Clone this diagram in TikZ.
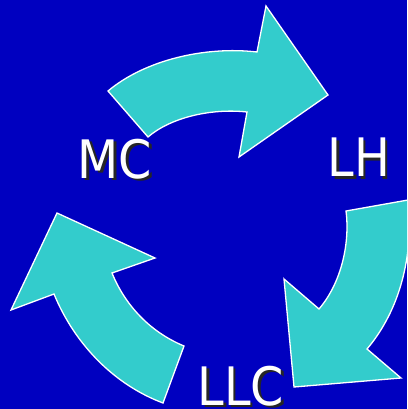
\documentclass[tikz,border=0pt]{standalone}
\usepackage{fontspec}
\setmainfont{DejaVu Sans}
\definecolor{bg}{RGB}{0,0,192}
\definecolor{arrowfill}{RGB}{51,204,204}
\tikzset{
  arrowshape/.style={fill=arrowfill, draw=white, line width=1.3pt, line join=miter},
  lbl/.style={text=white, inner sep=0pt, font=\fontsize{53}{60}\selectfont, xscale=0.9, transform shape},
  lblshadow/.style={text=black!85, inner sep=0pt, font=\fontsize{53}{60}\selectfont, xscale=0.9, transform shape}
}
\begin{document}
\begin{tikzpicture}[x=1pt,y=-1pt]
\fill[bg] (0,0) rectangle (407,409);
\useasboundingbox (0,0) rectangle (407,409);
\begin{scope}
\clip (0,0) rectangle (407,409);
% top arrow
\draw[arrowshape] (108,91) .. controls (145,60) and (205,46) .. (257,52)
  -- (266,6) -- (328,95) -- (239,157) -- (247,112)
  .. controls (210,108) and (170,118) .. (148,137) -- cycle;
% right arrow
\draw[arrowshape] (346,211) .. controls (350,242) and (342,282) .. (319,309)
  -- (284,279) -- (294,387) -- (401,378) -- (367,349)
  .. controls (400,310) and (414,255) .. (408,200) -- cycle;
% left arrow
\draw[arrowshape] (184,346) .. controls (150,332) and (125,305) .. (112,273)
  -- (155,258) -- (57,213) -- (11,310) -- (54,294)
  .. controls (75,345) and (115,385) .. (163,403) -- cycle;
\end{scope}
% labels
\node[lblshadow] (mcs) at (117.5,161.5) {MC};
\node[lbl] (mc) at (115,159) {MC};
\node[lblshadow] (lhs) at (361.5,160) {LH};
\node[lbl] (lh) at (359,157.5) {LH};
\node[lblshadow] (llcs) at (243.5,388.5) {LLC};
\node[lbl] (llc) at (241,386) {LLC};
\end{tikzpicture}
\end{document}
